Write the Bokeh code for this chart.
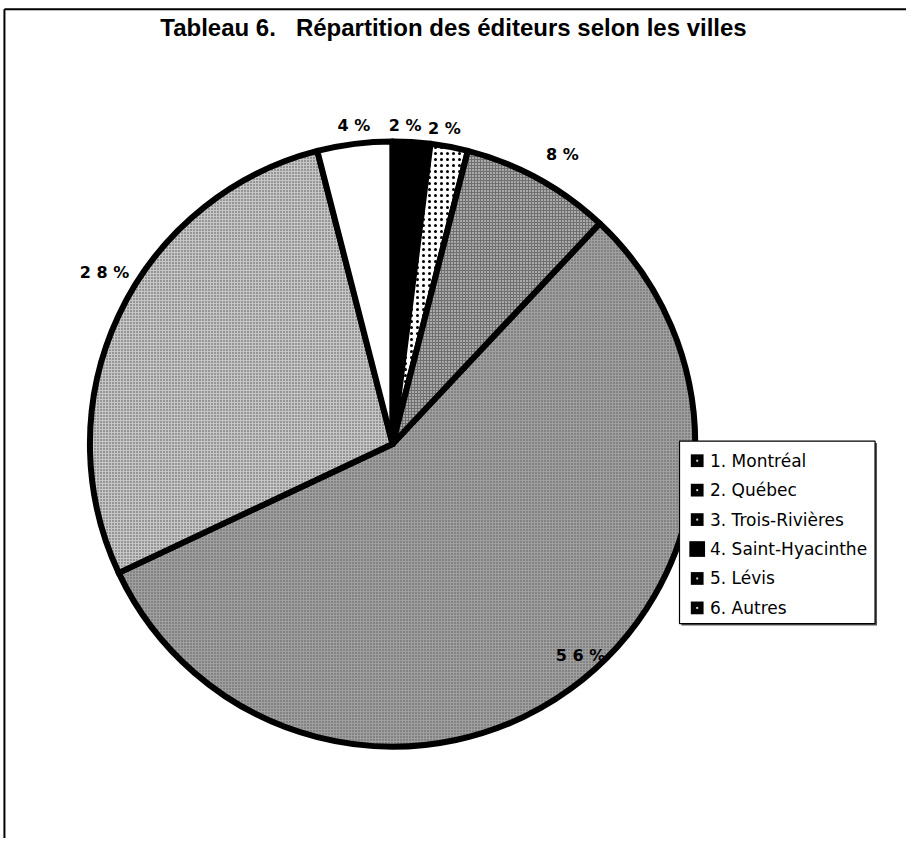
import numpy as np
from bokeh.plotting import figure
from bokeh.models import Range1d, ColumnDataSource
from bokeh.core.properties import value
from bokeh.embed import file_html
from bokeh.resources import INLINE

# ---- data ----
categories = ["Montréal", "Québec", "Trois-Rivières", "Saint-Hyacinthe", "Lévis", "Autres"]
legend_labels = ["1.  Montréal", "2. Québec", "3.   Trois-Rivières", "4. Saint-Hyacinthe", "5. Lévis", "6. Autres"]
percents = [56, 28, 4, 2, 2, 8]
title_text = "Tableau 6.\u00a0\u00a0 Répartition des éditeurs selon les villes"

# ---- layout (reference pixel coordinates, y measured downward) ----
W, H = 906, 838
IMG_W, IMG_H = 922, 854
def Y(img_y):
    return IMG_H - np.asarray(img_y)

cx, cy_img = 399, 452
R = 308
start_deg = 43.2  # clockwise from 12 o'clock, where slice 1 starts

p = figure(width=W, height=H, x_range=Range1d(0, IMG_W), y_range=Range1d(0, IMG_H),
           output_backend="svg", toolbar_location=None, min_border=0,
           x_axis_location=None, y_axis_location=None, outline_line_color=None,
           background_fill_color="white", border_fill_color="white")
p.grid.visible = False

# frame lines (top and left)
p.line(x=[4, IMG_W], y=[Y(9), Y(9)], line_color="black", line_width=2)
p.line(x=[4, 4], y=[Y(9), 0], line_color="black", line_width=2)

vals = np.array(percents, dtype=float)
fr = vals / vals.sum() * 360.0
th1 = start_deg + np.concatenate([[0], np.cumsum(fr)[:-1]])
th2 = th1 + fr
start_a = np.deg2rad(90 - th2)
end_a = np.deg2rad(90 - th1)

fills = ["#a0a0a0", "#c6c6c6", "#ffffff", "#000000", "#ffffff", "#707070"]
hatches = ["dot", "dot", " ", " ", "dot", "dot"]
hcolors = ["#555555", "#4a4a4a", "black", "black", "black", "#ffffff"]
hscale = [3, 3, 6, 6, 6, 3]
hweight = [1.2, 1.3, 1, 1, 1.6, 1.2]

src = ColumnDataSource(dict(x=[cx]*6, y=[Y(cy_img)]*6, s=start_a, e=end_a, fill=fills,
                            hp=hatches, hc=hcolors, hs=hscale, hw=hweight))
p.wedge(x="x", y="y", radius=R, start_angle="s", end_angle="e", source=src,
        fill_color="fill", line_color="black", line_width=6, line_join="round",
        hatch_pattern="hp", hatch_color="hc", hatch_scale="hs", hatch_weight="hw")

# percent labels: on the mid-angle just outside the rim (largest inside), nudged as in the original
mid = np.deg2rad((th1 + th2) / 2)
big = int(np.argmax(vals))
lab_r = np.full(len(vals), 1.07 * R)
lab_r[big] = 0.935 * R
nudge_x = np.array([22, 5, 2, -8, -9, 14])
nudge_y = np.array([-17, -34, 2, 4, 2, -6])
lx = cx + lab_r * np.sin(mid) + nudge_x
ly_img = cy_img - lab_r * np.cos(mid) + nudge_y
ltxt = [" ".join(str(v)) + " %" for v in percents]
p.text(x=lx, y=Y(ly_img), text=ltxt, text_align="center", text_baseline="middle",
       text_font=value("DejaVu Sans"), text_font_style="bold", text_font_size="16px",
       text_color="black")

# title
p.text(x=[461], y=[Y(28)], text=[title_text], text_align="center", text_baseline="middle",
       text_font=value("Liberation Sans"), text_font_style="bold", text_font_size="24px",
       text_color="black")

# legend box
lb_l, lb_r, lb_t, lb_b = 691, 890, 449, 635
p.quad(left=[lb_l + 2], right=[lb_r + 2], top=[Y(lb_t + 2)], bottom=[Y(lb_b + 2)],
       fill_color="#555555", line_color=None)
p.quad(left=[lb_l], right=[lb_r], top=[Y(lb_t)], bottom=[Y(lb_b)],
       fill_color="white", line_color="black", line_width=1.2)
row_y = [float(Y(469 + 30 * i)) for i in range(len(categories))]
sizes = [13 if c != "Saint-Hyacinthe" else 16 for c in categories]
p.rect(x=[709] * 6, y=row_y, width=sizes, height=sizes, fill_color="black", line_color=None)
inner = [i for i, c in enumerate(categories) if c != "Saint-Hyacinthe"]
p.rect(x=[709] * len(inner), y=[row_y[i] for i in inner], width=2, height=2,
       fill_color="#dddddd", line_color=None)
p.text(x=[722] * 6, y=row_y, text=legend_labels, text_align="left", text_baseline="middle",
       text_font=value("DejaVu Sans"), text_font_size="17px", text_color="black")

open("out.html", "w").write(file_html(p, INLINE))
